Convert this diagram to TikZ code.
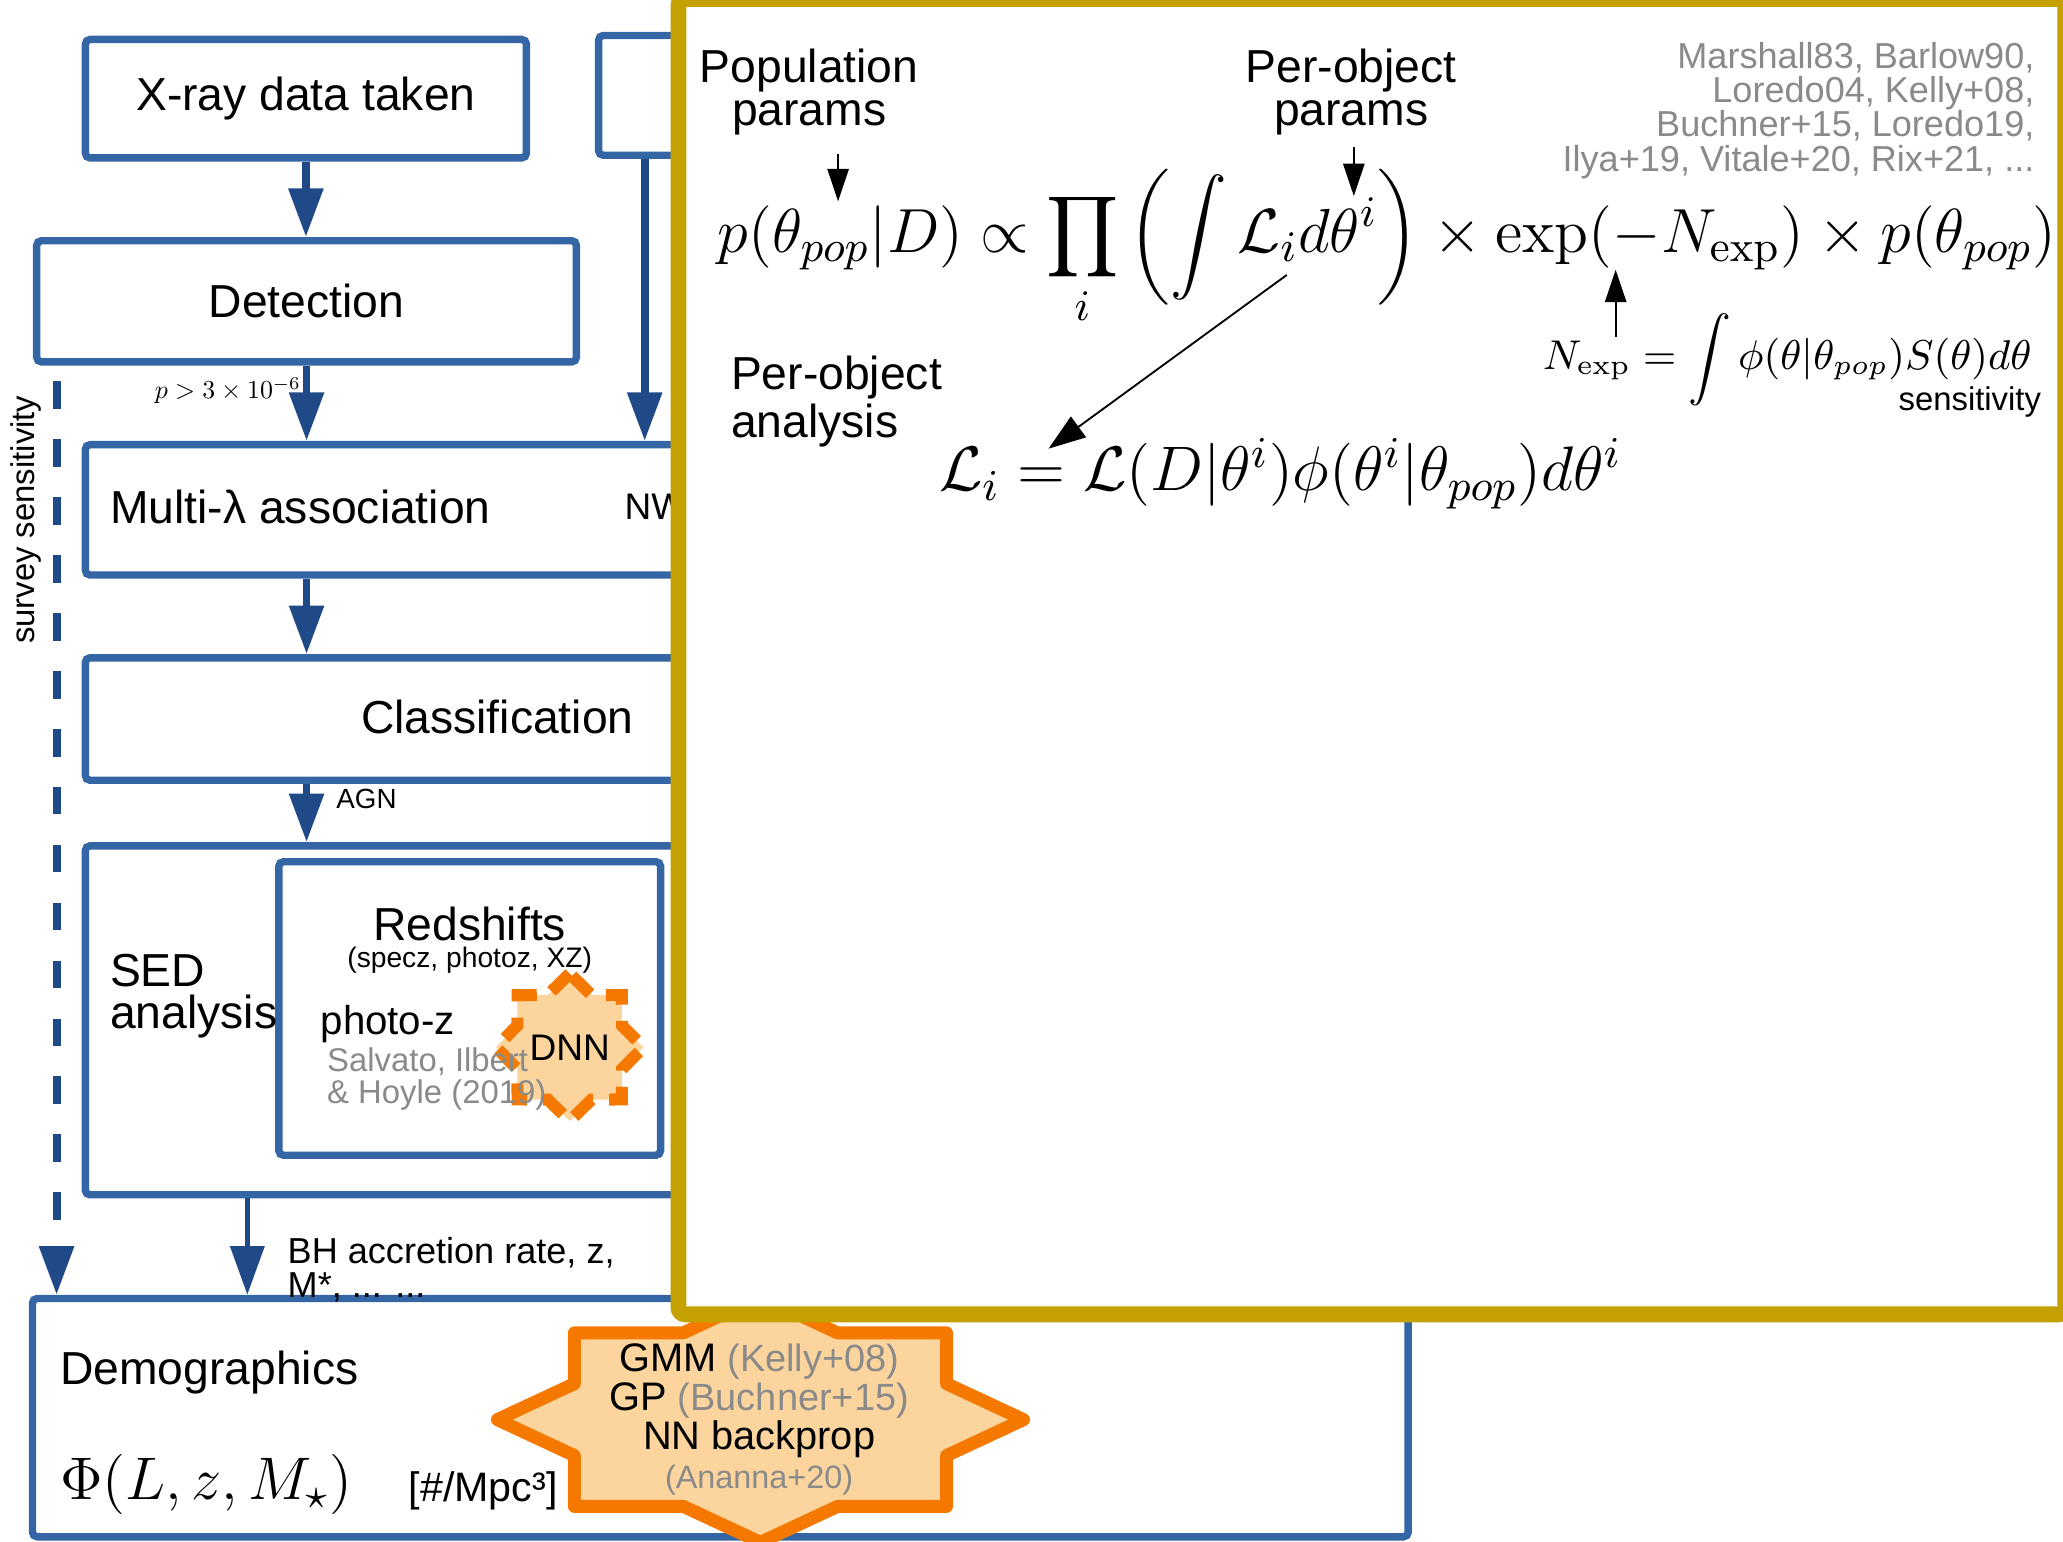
\RequirePackage{fix-cm}
\documentclass[tikz,border=0pt]{standalone}
\usepackage{exscale}
\usepackage[no-math]{fontspec}
\setmainfont{Liberation Sans}
\usetikzlibrary{arrows.meta,shapes.geometric}
\definecolor{boxblue}{HTML}{3465A4}
\definecolor{arrowblue}{HTML}{204A87}
\definecolor{butter}{HTML}{C4A000}
\definecolor{tangoorange}{HTML}{F57900}
\definecolor{paleorange}{HTML}{FCD59E}
\definecolor{reftext}{HTML}{8A8A8A}
\tikzset{
  stage/.style={draw=boxblue, line width=1.6pt, rounded corners=1pt, inner sep=0pt},
  flow/.style={draw=arrowblue, line width=1.7pt, -{Triangle[width=7.2pt,length=10.5pt]}},
  thinflow/.style={flow, line width=1.2pt},
  pointer/.style={draw=black, line width=0.4pt, -{Triangle[width=4.6pt,length=7pt]}},
  bigtxt/.style={inner sep=0pt, font=\fontsize{10}{9.2}\selectfont},
  smalltxt/.style={inner sep=0pt, font=\fontsize{7.8}{7.4}\selectfont},
  reftxt/.style={inner sep=0pt, text=reftext, font=\fontsize{7.8}{7.4}\selectfont},
  goldbox/.style={draw=butter, fill=white, line width=3.45pt, rounded corners=1.5pt, inner sep=0pt}
}
\begin{document}
\begin{tikzpicture}[x=0.01cm, y=-0.01cm]
  \useasboundingbox (0,0) rectangle (1568,1172);
  % pipeline boxes
  \node[stage, minimum width=3.35cm, minimum height=0.9cm, font=\fontsize{10}{12}\selectfont] (xray) at (232.5,75) {X-ray data taken};
  \node[stage, minimum width=1.45cm, minimum height=0.91cm] (catalog) at (527.5,72.5) {};
  \node[stage, minimum width=4.1cm, minimum height=0.92cm, font=\fontsize{10}{12}\selectfont] (detect) at (233,229) {Detection};
  \node[stage, minimum width=5.35cm, minimum height=0.99cm] (assoc) at (332.5,387.5) {};
  \node[stage, minimum width=5.35cm, minimum height=0.93cm] (classif) at (332.5,546.5) {};
  \node[stage, minimum width=5.35cm, minimum height=2.65cm] (sed) at (332.5,775.5) {};
  \node[stage, minimum width=2.9cm, minimum height=2.23cm] (redshift) at (357,766.5) {};
  \node[stage, minimum width=10.45cm, minimum height=1.81cm] (demog) at (547.5,1077.5) {};
  \coordinate (nwx) at (490,0);
  \coordinate (stubx) at (513,0);
  \coordinate (bhx) at (188,0);
  \coordinate (svx) at (43,0);
  % texts in the boxes
  \node[bigtxt, anchor=west] (assoctxt) at (83,385) {Multi-λ association};
  \node[inner sep=0pt, anchor=west, font=\fontsize{8}{9}\selectfont] (nwtxt) at (474,385) {NW};
  \node[bigtxt] (classtxt) at (378,545) {Classification};
  \node[bigtxt, anchor=west, align=left] (sedtxt) at (83,757) {SED\\analysis};
  \node[bigtxt] (zhead) at (357,702) {Redshifts};
  \node[inner sep=0pt, font=\fontsize{6.1}{7}\selectfont] (zkinds) at (357,730) {(specz, photoz, XZ)};
  \node[inner sep=0pt, anchor=west, font=\fontsize{8.7}{9}\selectfont] (photoz) at (243,778) {photo-z};
  \node[star, star points=8, star point ratio=1.3, minimum size=1.12cm, inner sep=0pt,
        fill=paleorange, draw=tangoorange, line width=2.6pt, dash pattern=on 5.5pt off 3.5pt,
        font=\fontsize{8}{9}\selectfont] (dnn) at (433,796) {DNN};
  \node[inner sep=0pt, anchor=west, align=left, text=reftext, font=\fontsize{7.1}{6.8}\selectfont] (photozref) at (248,820) {Salvato, Ilbert\\\& Hoyle (2019)};
  % arrows
  \draw[flow] (xray.south) -- (xray.south |- detect.north);
  \draw[flow] (detect.south) -- (detect.south |- assoc.north);
  \draw[flow] (detect.south |- assoc.south) -- (detect.south |- classif.north);
  \draw[flow] (detect.south |- classif.south) -- (detect.south |- sed.north);
  \draw[flow] (catalog.south -| nwx) -- (assoc.north -| nwx);
  \draw[draw=boxblue, line width=1.6pt] (catalog.south -| stubx) -- ++(0,32);
  \draw[thinflow] (sed.south -| bhx) -- (demog.north -| bhx);
  \draw[flow, dash pattern=on 0.21cm off 0.23cm] ([yshift=-0.12cm]detect.south -| svx) -- (demog.north -| svx);
  \node[inner sep=0pt, anchor=east, scale=0.56, font=\fontsize{10}{12}\selectfont] (pthresh) at (229,297) {$p>3\times10^{-6}$};
  \node[inner sep=0pt, anchor=west, font=\fontsize{6}{7}\selectfont] (agn) at (255,607) {AGN};
  \node[inner sep=0pt, rotate=90, font=\fontsize{7.1}{8}\selectfont] (survey) at (20,395) {survey sensitivity};
  \node[smalltxt, anchor=west, align=left] (bhlab) at (218,965) {BH accretion rate, z,\\M*, ... ...};
  % demographics
  \node[bigtxt, anchor=west] (demtxt) at (45,1043) {Demographics};
  \node[inner sep=0pt, anchor=west, font=\fontsize{13}{15}\selectfont] (phi) at (45,1128) {$\Phi(L, z, M_\star)$};
  \node[inner sep=0pt, anchor=west, font=\fontsize{8.9}{10}\selectfont] (units) at (310,1133) {[\#/Mpc³]};
  \draw[draw=tangoorange, fill=paleorange, line width=2.8pt, line join=round, shift={(578,1079)}]
    (-22.5:153.08 and 71.41)
    \foreach \k in {0,...,6} { -- ({45*\k}:200 and 93.3) -- ({45*\k+22.5}:153.08 and 71.41) }
    -- (315:200 and 93.3) -- cycle;
  \node[inner sep=0pt, align=center, font=\fontsize{8.6}{8.4}\selectfont] (methods) at (577,1079)
    {GMM {\fontsize{8.2}{8.4}\selectfont\color{reftext}(Kelly+08)}\\
     GP {\fontsize{8.2}{8.4}\selectfont\color{reftext}(Buchner+15)}\\
     NN backprop\\
     {\fontsize{7}{7}\selectfont\color{reftext}(Ananna+20)}};
  % hierarchical model
  \node[goldbox, minimum width=10.535cm, minimum height=9.992cm] (model) at (1042.75,499.1) {};
  \node[bigtxt, align=center] (poptxt) at (615,70) {Population\\params};
  \node[bigtxt, align=center] (objtxt) at (1027,70) {Per-object\\params};
  \node[reftxt, anchor=east, align=right] (refs) at (1547,84) {Marshall83, Barlow90,\\Loredo04, Kelly+08,\\Buchner+15, Loredo19,\\Ilya+19, Vitale+20, Rix+21, ...};
  \node[inner sep=0pt, anchor=base west, scale=1.02, font=\fontsize{13.2}{15}\selectfont] (posterior) at (545,192)
    {$\displaystyle p(\theta_{pop}|D) \propto \prod_i \left(\int \mathcal{L}_i d\theta^i\right) \times \exp(-N_{\exp}) \times p(\theta_{pop})$};
  \node[bigtxt, anchor=west, align=left] (objan) at (555,305) {Per-object\\analysis};
  \node[inner sep=0pt, anchor=base west, font=\fontsize{13.6}{15}\selectfont] (likeli) at (713,373)
    {$\mathcal{L}_i = \mathcal{L}(D|\theta^i)\phi(\theta^i|\theta_{pop})d\theta^i$};
  \node[inner sep=0pt, anchor=base west, font=\fontsize{9}{11}\selectfont] (nexp) at (1172,281)
    {$\displaystyle N_{\exp} = \int \phi(\theta|\theta_{pop}) S(\theta) d\theta$};
  \node[inner sep=0pt, anchor=base east, font=\fontsize{7.1}{8}\selectfont] (senstxt) at (1552,312) {sensitivity};
  \coordinate (popfrom) at (637,117);
  \coordinate (popto) at (637,153);
  \coordinate (objfrom) at (1029,112);
  \coordinate (objto) at (1029,149);
  \coordinate (intfrom) at (978,209);
  \coordinate (intto) at (797,341);
  \coordinate (expfrom) at (1228,256);
  \coordinate (expto) at (1228,205);
  \draw[pointer] (popfrom) -- (popto);
  \draw[pointer] (objfrom) -- (objto);
  \draw[pointer, -{Triangle[width=5.5pt,length=8pt]}] (intfrom) -- (intto);
  \draw[pointer] (expfrom) -- (expto);
\end{tikzpicture}
\end{document}
